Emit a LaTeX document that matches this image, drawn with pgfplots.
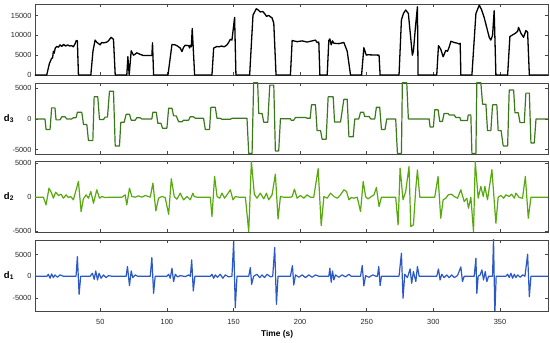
\documentclass[border=0pt]{standalone}
\usepackage{fontspec}
\setmainfont{Liberation Sans}
\usepackage{pgfplots}
\pgfplotsset{compat=1.18}
\definecolor{cthree}{RGB}{58,120,28}
\definecolor{ctwo}{RGB}{88,168,16}
\definecolor{cone}{RGB}{42,88,196}
\definecolor{axgray}{RGB}{70,70,70}
\pgfplotsset{
  panel/.style={
    width=513pt, height=71pt, scale only axis,
    xmin=1, xmax=386,
    xtick={50,100,...,350},
    tick align=inside, major tick length=3pt,
    axis line style={axgray, line width=0.6pt},
    every tick/.style={axgray, line width=0.6pt},
    tick label style={font=\fontsize{7.4}{8}\selectfont, text=black!85},
    /pgf/number format/assume math mode=true,
    /pgf/number format/1000 sep={},
    scaled y ticks=false,
    xticklabel style={yshift=-4.5pt},
    every axis y label/.style={at={(rel axis cs:0,0.5)}, anchor=center, xshift=-26pt, font=\fontsize{9.5}{10}\selectfont\bfseries},
    every axis plot/.append style={line join=round, line width=1.2pt},
  }
}
\begin{document}
\begin{tikzpicture}
\useasboundingbox (0,0) rectangle (550pt,343pt);
% top panel
\begin{axis}[panel, at={(35pt,268pt)}, anchor=south west, ymin=0, ymax=17900,
  ytick={0,5000,10000,15000}, xticklabels={}, clip=false]
\addplot[black, line width=1.3pt] coordinates {
(1,0)(9.8,0)(11.8,2900)(13.5,4200)(14.2,4300)(14.8,6000)(15.4,5500)(16.2,6800)(17.3,7200)(18.6,7000)(19.8,7600)(21,7200)(22.5,7700)(24,7300)(25.5,7600)(27,7300)(28.5,7400)(29.8,7100)(31.1,7900)(32,8700)(32.8,8600)(33.6,0)
(42.9,0)(44.5,6000)(46.1,8800)(47.5,8200)(49.9,7600)(51,8200)(52.4,8100)(54,8200)(54.9,8300)(56.1,8600)(58.1,9500)(59.9,9000)(61.2,0)
(69.9,0)(70.7,4600)(71.7,0)(73.2,6100)(74.9,5000)(76,5200)(77.4,5600)(79.9,5200)(82.5,4900)(88.7,4900)(89.2,8100)(90,0)
(100.8,0)(103.8,7700)(106,7600)(107.5,7400)(110,6800)(111.3,5900)(112.5,7000)(113.8,7500)(116.3,7400)(117,6800)(117.5,7500)(118.3,7100)(119,11700)(120.8,0)
(133.8,0)(135.1,6800)(137.6,7200)(139,7100)(141,7300)(143,7100)(145.1,7600)(146.3,8200)(147.6,9000)(148.8,8800)(150.8,14500)(151.8,0)
(162.1,0)(164.6,15100)(167.1,16700)(168.5,16400)(170.1,15900)(172,16000)(173.5,15400)(174.7,14800)(176.4,15000)(178.9,14400)(180.2,13100)(181.9,0)
(192.7,0)(194,8700)(197.7,8400)(201.5,8600)(205.2,8300)(209,8600)(211.5,8800)(212.7,8200)(214,8300)(214.8,0)
(220.3,0)(221.5,8700)(222.3,9100)(223.3,7600)(224.3,8600)(225.3,8000)(229,7900)(232.8,8200)(235.3,6000)(237.8,0)
(246.1,0)(247.8,6900)(249.6,5000)(250.8,5100)(259.2,5000)(260,0)
(274.2,0)(276,13900)(277.5,15500)(279.2,16400)(281.2,15500)(282.5,11000)(284.2,5000)(285,6000)(286.5,12000)(288,17200)(288.5,0)
(302.5,0)(303.8,7400)(305.5,6500)(307.3,4600)(309.3,6200)(310.6,6000)(311.8,7000)(313.1,8500)(315.6,8200)(318.1,8000)(319.3,7800)(320.1,8000)(320.6,0)
(328.9,0)(331.9,15500)(334.4,17600)(336.1,16500)(338.1,14500)(340,12000)(341.9,9500)(343.1,8800)(344.4,10000)(345.6,16200)(346.9,0)
(355.7,0)(357.4,9700)(359.4,10100)(361.4,10500)(363.2,11000)(363.9,12000)(365.7,10500)(367.7,9500)(369.4,11200)(370.7,10800)(372,0)(386,0)
};
\end{axis}
% d3
\begin{axis}[panel, at={(35pt,189pt)}, anchor=south west, ymin=-5700, ymax=5850,
  ytick={-5000,0,5000}, xticklabels={}, ylabel={d\textsubscript{3}}]
\addplot[cthree] coordinates {
(1,0)(8.5,0)(9.3,-1700)(12.3,-1700)(13.5,1800)(16,1800)(16.8,-150)(19.8,-150)(21.1,350)(23.6,350)(24.8,0)(28.6,0)(29.8,200)(31.8,200)(32.8,1100)(36.1,1100)(37.4,-900)(39.9,-900)(41.1,-3500)(44.4,-3500)(45.4,3600)(48.1,3600)(49.4,-100)(52.4,-100)(53.6,300)(55.4,300)(56.9,4500)(59.9,4500)(61.2,-4400)(64.4,-4400)(65.4,-550)(67.9,-550)(69.4,750)(71.9,750)(73.2,-200)(76.2,-200)(77.4,200)(79.9,200)(81.2,0)(88.7,0)(89.5,1100)(92,1100)(93.2,-700)(95.5,-700)(96.7,-1500)(100,-1500)(101.3,1750)(103.8,1750)(105,500)(107,500)(108.8,-450)(111.3,-450)(112.5,-200)(116.3,-200)(117.5,350)(120,350)(121.3,100)(127.5,100)(128.8,-1700)(132,-1700)(133,1900)(136.3,1900)(137.6,100)(140,100)(141.3,-50)(147.6,-50)(148.8,100)(160.1,100)(161.4,-5600)(163.9,-5600)(165.1,5900)(168.1,5900)(168.9,900)(171.4,900)(172.7,-550)(175.7,-550)(177.2,5500)(180.2,5500)(181.4,-5200)(183.9,-5200)(185.2,50)(192.7,50)(193.2,-200)(195.2,-200)(196.5,250)(204,250)(205.5,100)(207.5,100)(208.5,2300)(211.5,2300)(212.7,-1900)(215.3,-1900)(216.5,-3300)(219.5,-3300)(221,3600)(224.8,3600)(225.8,-500)(230.3,-500)(232.8,3200)(235.3,3200)(236.6,-2900)(239.8,-2900)(241,0)(244,0)(245.3,1100)(247.6,1100)(248.4,400)(251.7,400)(253,0)(256,0)(257.2,1900)(259.7,1900)(261,-1700)(263.7,-1700)(265,0)(271.7,0)(273,-5600)(276,-5600)(276.7,5900)(280,5900)(281.2,0)(296.8,0)(297.5,-1300)(300,-1300)(301,1500)(303.5,1500)(304.8,-400)(306.8,-400)(308,900)(311,900)(311.8,650)(315.6,650)(316.8,250)(319.8,250)(320.6,-250)(325.6,-250)(326.1,650)(328.1,650)(328.9,-5600)(331.9,-5600)(332.6,5900)(335.6,5900)(336.9,2400)(339.4,2400)(340.6,-1900)(343.1,-1900)(344.4,2300)(347.6,2300)(348.6,-1900)(350.8,-1900)(352.4,-4400)(355.7,-4400)(356.9,4700)(360.2,4700)(361.2,1000)(363.7,1000)(365,-600)(368.2,-600)(369.4,4200)(372,4200)(373.2,-3900)(375.7,-3900)(377,0)(386,0)
};
\end{axis}
% d2
\begin{axis}[panel, at={(35pt,111pt)}, anchor=south west, ymin=-5100, ymax=5300,
  ytick={-5000,0,5000}, xticklabels={}, ylabel={d\textsubscript{2}}]
\addplot[ctwo] coordinates {
(1,0)(7.3,0)(9.3,-1130)(11.5,1320)(13.5,590)(14.8,-150)(16.5,740)(18.6,250)(20.6,440)(22.3,-150)(24.3,340)(26.1,-50)(27.8,100)(29.8,-390)(33.6,2300)(35.6,-2100)(37.3,-250)(39.4,340)(41.1,-150)(42.9,830)(44.9,-880)(47.4,1080)(49.4,-150)(51.1,100)(53.6,-50)(57.4,0)(66.2,0)(68.7,340)(69.9,-1130)(71.9,1320)(73.7,100)(76.2,0)(78.7,200)(81.2,0)(83.7,250)(87.5,0)(89.5,2060)(91.7,-2000)(93.7,-150)(96.2,100)(98.7,-50)(101.3,-2500)(103.3,2700)(105.5,100)(107.5,-290)(110,590)(112.5,-390)(115,100)(117.5,-390)(119.5,590)(120.5,100)(122.5,0)(132.6,0)(133.8,-2840)(135.8,3040)(137.6,100)(139.6,-150)(141.3,590)(143.3,-150)(145.1,340)(147.6,1080)(149.6,-390)(151.4,100)(153.9,0)(158.9,0)(161.4,-5050)(163.4,5240)(165.6,440)(167.6,-150)(170.1,590)(172.7,-250)(174.7,590)(176.4,-390)(178.9,340)(181.4,3380)(183.4,-3200)(185.2,100)(187.7,0)(192.7,0)(194,100)(195.7,1180)(197.7,-150)(200.2,250)(202.7,-150)(205.2,340)(207.7,0)(210.2,0)(213.5,4170)(215.8,-4170)(217.8,100)(220.3,-150)(222.8,590)(225.3,100)(227.8,-150)(230.3,340)(232.8,1080)(234.8,830)(236.6,-390)(238.3,-50)(240.3,-150)(242.8,0)(245.3,-2100)(247.3,2300)(249.1,100)(250.9,-250)(253.4,100)(255.4,340)(257.2,1420)(259.2,-1370)(261,0)(271.7,0)(273.5,-4070)(275,4260)(277.2,-390)(279.2,830)(281.7,4500)(283,-4300)(285,-4050)(286.8,1320)(288,4000)(289.8,0)(301,0)(303.5,3040)(305.5,-3090)(307.3,-390)(309.3,-150)(311.1,340)(313.6,440)(315.6,100)(318.1,-150)(320.6,1080)(323.1,-640)(325.1,-150)(326.3,-1620)(328.1,0)(330.1,-5050)(331.4,5240)(333.6,-150)(335.6,1570)(337.4,100)(338.6,1570)(340.6,-390)(343.9,4020)(346.9,-3820)(348.6,0)(350.6,250)(352.7,-150)(354.4,340)(356.9,100)(358.7,440)(360.7,-150)(361.9,590)(364.4,-50)(366.9,-150)(369,3040)(371.2,-3090)(373.2,0)(386,0)
};
\end{axis}
% d1
\begin{axis}[panel, at={(35pt,32pt)}, anchor=south west, ymin=-8000, ymax=8350,
  ytick={-5000,0,5000}, ylabel={d\textsubscript{1}},
  xlabel={Time (s)},
  xlabel style={at={(rel axis cs:0.472,0)}, anchor=north, yshift=-16pt, font=\fontsize{8.4}{9}\selectfont\bfseries}]
\addplot[cone] coordinates {
(1,0)(10,0)(11,460)(12.3,-460)(13.5,540)(14.8,-310)(16,310)(17.8,-230)(19.8,310)(22.3,0)(31.8,0)(32.8,4540)(34.1,-4160)(35.3,0)(42.4,0)(44.1,690)(45.4,-690)(46.6,1230)(47.9,-850)(49.1,690)(50.6,-460)(52.4,310)(54.4,-310)(56.1,150)(58.6,0)(69.4,0)(70.4,2230)(71.9,-2150)(73.2,1230)(74.4,-310)(76.2,310)(78,0)(87.5,0)(88.7,4310)(90,-3930)(91.2,0)(100,0)(101.3,460)(102.5,-460)(103.8,1850)(105,-1230)(106.3,460)(108,-150)(110,150)(113.8,-80)(116.3,310)(117.6,0)(118.6,3770)(119.8,-3390)(121,0)(132.6,0)(133.8,460)(135.1,-460)(136.3,310)(138,-230)(140,460)(142,-460)(143.8,310)(146.3,-150)(148.8,0)(150.1,8000)(151.3,-7240)(152.6,0)(161.4,0)(162.6,2000)(163.6,-1850)(165.1,0)(167.6,460)(169.6,-310)(171.4,310)(173.2,-310)(175.2,460)(177.7,-150)(179.4,0)(180.9,6620)(182.2,-6470)(183.4,0)(192.7,0)(194.2,2460)(195.2,-2000)(196.5,310)(199,-230)(201.5,310)(204,-310)(206.5,310)(209,-230)(211.5,310)(214,0)(221.5,0)(222.3,1850)(223.3,-1390)(224.3,1230)(225.3,-850)(226.5,310)(229,-230)(231.5,310)(234,-150)(236.6,460)(238.3,0)(245.3,0)(246.6,2460)(247.8,-2230)(249.1,150)(251.6,-230)(254.5,310)(257,0)(258,0)(259,2230)(260,-2150)(261,0)(274.2,0)(276,5310)(277.2,-5080)(278.5,460)(280.5,-310)(282.5,1690)(283.7,-1620)(285,1080)(286.8,-1230)(288,2230)(289.3,0)(302.5,0)(303.8,1690)(305,-850)(306.3,460)(308,-310)(310,310)(311.8,-310)(313.8,310)(315.6,-310)(318.1,150)(320.6,2150)(321.8,-1230)(323.1,0)(330.6,0)(331.9,4160)(332.6,-3930)(333.6,0)(335.1,310)(336.4,1460)(337.6,-850)(338.9,1080)(340.1,-1230)(341.4,0)(344.4,0)(345.1,8800)(346.1,-8800)(347.1,0)(354.4,0)(355.7,460)(356.9,-310)(358.2,690)(359.4,-460)(360.7,460)(361.9,-310)(363.2,310)(365.2,-230)(367,310)(368.7,0)(370.7,5080)(372,-4700)(373.2,0)(386,0)
};
\end{axis}
\end{tikzpicture}
\end{document}
